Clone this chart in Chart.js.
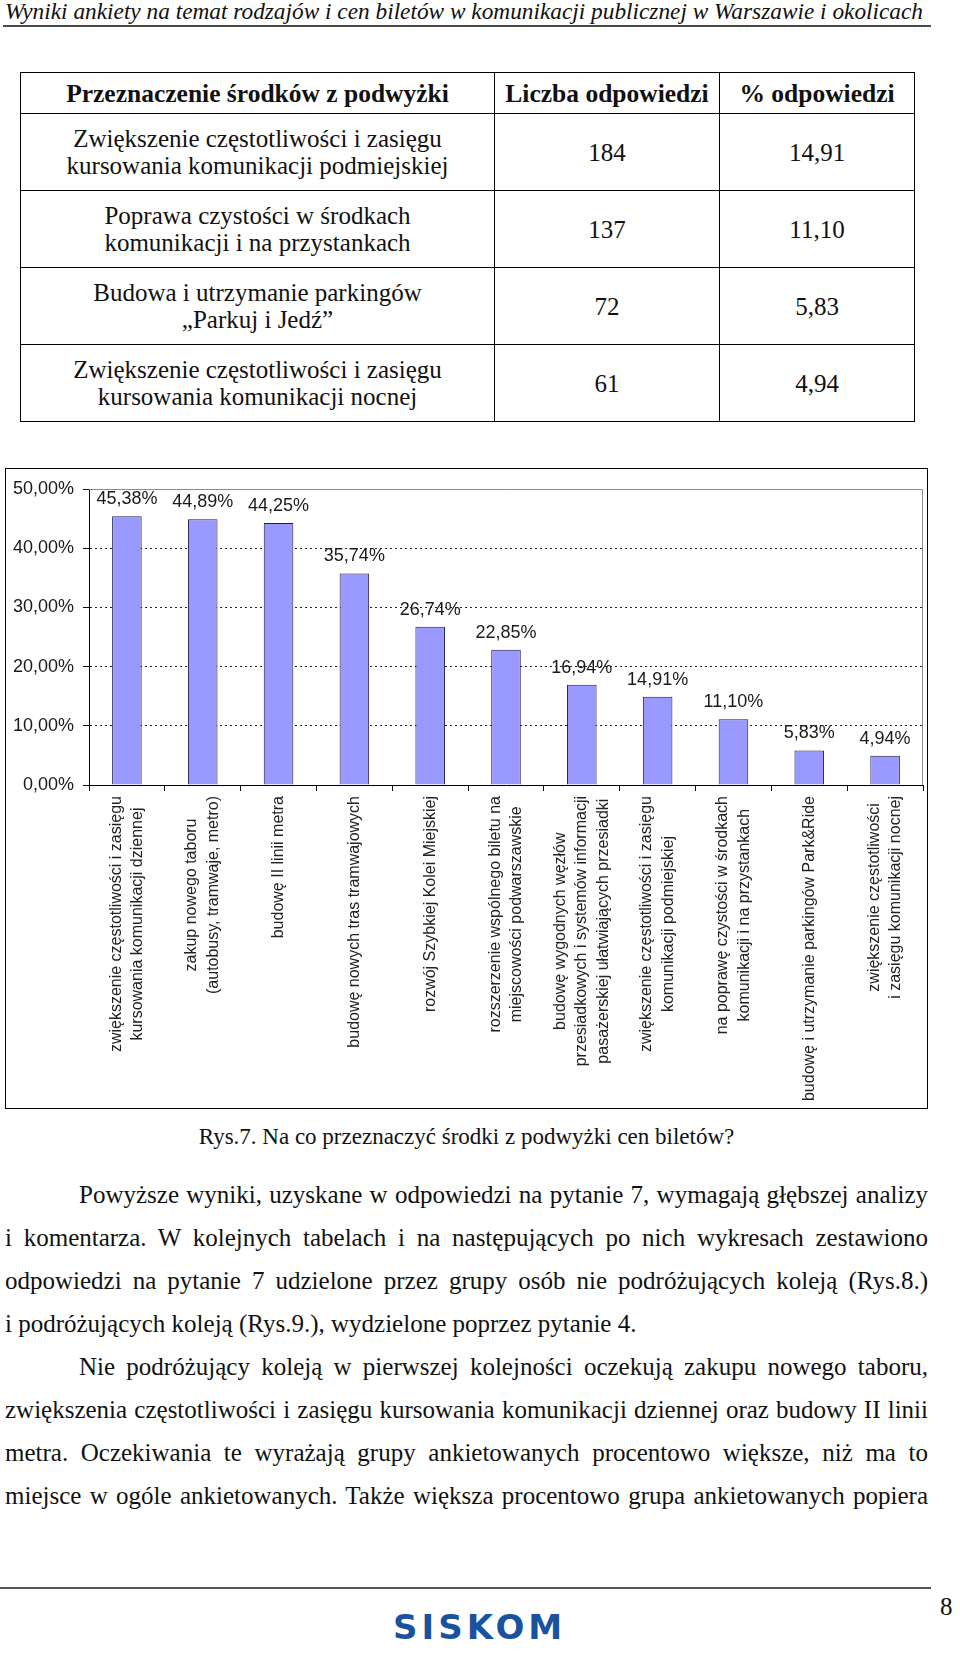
<!DOCTYPE html>
<html lang="pl">
<head>
<meta charset="utf-8">
<title>Rys.7. Na co przeznaczyć środki z podwyżki cen biletów?</title>
<script src="https://cdn.jsdelivr.net/npm/chart.js@4.4.1/dist/chart.umd.min.js"></script>
<style>
  html, body { margin: 0; padding: 0; background: #fff; }
  body {
    width: 960px; height: 1658px; position: relative; overflow: hidden;
    font-family: 'Liberation Serif', 'Times New Roman', serif; color: #111;
  }
  .abs { position: absolute; }
  #header {
    left: 5px; top: -1px; font-style: italic; font-size: 23px; line-height: 26px;
    white-space: nowrap; transform-origin: 0 0;
  }
  #headerRule { left: 3px; top: 25px; width: 928px; height: 2px; background: #4a4a4a; }
  #summary {
    position: absolute; left: 20px; top: 72px; width: 894px;
    border-collapse: collapse; table-layout: fixed; font-size: 25px;
  }
  #summary td, #summary th {
    border: 1px solid #000; text-align: center; vertical-align: middle;
    padding: 0; line-height: 27px;
  }
  #summary th { font-size: 25.5px; height: 40px; }
  #summary td { height: 76px; }
  #chartBox {
    left: 5px; top: 468px; width: 923px; height: 641px;
    border: 1px solid #000; box-sizing: border-box;
  }
  #chartBox canvas { display: block; }
  #caption { left: 5px; top: 1122px; width: 923px; text-align: center; font-size: 23px; line-height: 30px; }
  .line {
    position: absolute; left: 5px; width: 923px; font-size: 25px; line-height: 43px;
    height: 43px; white-space: nowrap; text-align: justify; text-align-last: justify;
  }
  .line.last { text-align-last: left; }
  .line.indent { text-indent: 74px; }
  #footRule { left: 0; top: 1587px; width: 931px; height: 2px; background: #555; }
  #pageNo { left: 940px; top: 1592px; font-size: 25px; line-height: 30px; }
  #logo {
    left: 393px; top: 1608px; font-family: 'DejaVu Sans', sans-serif; font-weight: bold;
    font-size: 34px; line-height: 38px; letter-spacing: 4px; color: #1a52a0;
  }
</style>
</head>
<body>
<div id="header" class="abs">Wyniki ankiety na temat rodzajów i cen biletów w komunikacji publicznej w Warszawie i okolicach</div>
<div id="headerRule" class="abs"></div>

<table id="summary">
  <colgroup><col style="width:474px"><col style="width:225px"><col style="width:195px"></colgroup>
  <thead>
    <tr><th>Przeznaczenie środków z podwyżki</th><th>Liczba odpowiedzi</th><th>% odpowiedzi</th></tr>
  </thead>
  <tbody id="summaryBody"></tbody>
</table>

<div id="chartBox" class="abs"><canvas id="fundsChart" width="921" height="639"></canvas></div>

<div id="caption" class="abs">Rys.7. Na co przeznaczyć środki z podwyżki cen biletów?</div>

<div class="line indent" style="top:1173px">Powyższe wyniki, uzyskane w odpowiedzi na pytanie 7, wymagają głębszej analizy</div>
<div class="line" style="top:1216px">i komentarza. W kolejnych tabelach i na następujących po nich wykresach zestawiono</div>
<div class="line" style="top:1259px">odpowiedzi na pytanie 7 udzielone przez grupy osób nie podróżujących koleją (Rys.8.)</div>
<div class="line last" style="top:1302px">i podróżujących koleją (Rys.9.), wydzielone poprzez pytanie 4.</div>
<div class="line indent" style="top:1345px">Nie podróżujący koleją w pierwszej kolejności oczekują zakupu nowego taboru,</div>
<div class="line" style="top:1388px">zwiększenia częstotliwości i zasięgu kursowania komunikacji dziennej oraz budowy II linii</div>
<div class="line" style="top:1431px">metra. Oczekiwania te wyrażają grupy ankietowanych procentowo większe, niż ma to</div>
<div class="line" style="top:1474px">miejsce w ogóle ankietowanych. Także większa procentowo grupa ankietowanych popiera</div>

<div id="footRule" class="abs"></div>
<div id="pageNo" class="abs">8</div>
<div id="logo" class="abs">SISKOM</div>

<script>
// table data
const tableItems = [
  ['Zwiększenie częstotliwości i zasięgu', 'kursowania komunikacji podmiejskiej'],
  ['Poprawa czystości w środkach', 'komunikacji i na przystankach'],
  ['Budowa i utrzymanie parkingów', '\u201EParkuj i Jedź\u201D'],
  ['Zwiększenie częstotliwości i zasięgu', 'kursowania komunikacji nocnej']
];
const tableCounts = [184, 137, 72, 61];
const tablePercents = ['14,91', '11,10', '5,83', '4,94'];

// chart data
const categories = [
  ['zwiększenie częstotliwości i zasięgu', 'kursowania komunikacji dziennej'],
  ['zakup nowego taboru', '(autobusy, tramwaje, metro)'],
  ['budowę II linii metra'],
  ['budowę nowych tras tramwajowych'],
  ['rozwój Szybkiej Kolei Miejskiej'],
  ['rozszerzenie wspólnego biletu na', 'miejscowości podwarszawskie'],
  ['budowę wygodnych węzłów', 'przesiadkowych i systemów informacji', 'pasażerskiej ułatwiających przesiadki'],
  ['zwiększenie częstotliwości i zasięgu', 'komunikacji podmiejskiej'],
  ['na poprawę czystości w środkach', 'komunikacji i na przystankach'],
  ['budowę i utrzymanie parkingów Park&Ride'],
  ['zwiększenie częstotliwości', 'i zasięgu komunikacji nocnej']
];
const shares = [45.38, 44.89, 44.25, 35.74, 26.74, 22.85, 16.94, 14.91, 11.10, 5.83, 4.94];
const yMin = 0, yMax = 50, yStep = 10;

const fmtPct = v => v.toFixed(2).replace('.', ',') + '%';

// build the table
const tbody = document.getElementById('summaryBody');
tableItems.forEach((lines, i) => {
  const tr = document.createElement('tr');
  tr.innerHTML = '<td>' + lines.join('<br>') + '</td><td>' + tableCounts[i] + '</td><td>' + tablePercents[i] + '</td>';
  tbody.appendChild(tr);
});

// stretch header to its printed width
const header = document.getElementById('header');
header.style.transform = 'scaleX(' + (918 / header.getBoundingClientRect().width) + ')';

const sansFont = '"Liberation Sans", Arial, sans-serif';
Chart.defaults.font.family = sansFont;

// grey frame on top and right of the plot area
const plotFrame = {
  id: 'plotFrame',
  beforeDatasetsDraw(chart) {
    const { ctx, chartArea: a } = chart;
    ctx.save();
    ctx.strokeStyle = '#8c8c8c';
    ctx.lineWidth = 1;
    ctx.beginPath();
    ctx.moveTo(a.left, a.top + 0.5);
    ctx.lineTo(a.right - 0.5, a.top + 0.5);
    ctx.lineTo(a.right - 0.5, a.bottom);
    ctx.stroke();
    ctx.restore();
  }
};

// value above each bar
const valueLabels = {
  id: 'valueLabels',
  afterDatasetsDraw(chart) {
    const ctx = chart.ctx;
    const meta = chart.getDatasetMeta(0);
    ctx.save();
    ctx.font = '18px ' + sansFont;
    ctx.fillStyle = '#1a1a1a';
    ctx.textAlign = 'center';
    ctx.textBaseline = 'alphabetic';
    meta.data.forEach((bar, i) => {
      ctx.fillText(fmtPct(shares[i]), bar.x, bar.y - 12);
    });
    ctx.restore();
  }
};

// vertical, centred multi-line category labels
const categoryLabels = {
  id: 'categoryLabels',
  afterDraw(chart) {
    const ctx = chart.ctx;
    const xs = chart.scales.x;
    ctx.save();
    ctx.font = '16px ' + sansFont;
    ctx.fillStyle = '#222';
    ctx.textAlign = 'center';
    ctx.textBaseline = 'middle';
    categories.forEach((lines, i) => {
      const w = Math.max(...lines.map(l => ctx.measureText(l).width));
      ctx.save();
      ctx.translate(xs.getPixelForValue(i), xs.top + 11);
      ctx.rotate(-Math.PI / 2);
      lines.forEach((line, j) => {
        ctx.fillText(line, -w / 2, (j - (lines.length - 1) / 2) * 21.5);
      });
      ctx.restore();
    });
    ctx.restore();
  }
};

new Chart(document.getElementById('fundsChart'), {
  type: 'bar',
  data: {
    labels: categories,
    datasets: [{
      data: shares,
      backgroundColor: '#9999ff',
      borderColor: '#1c1c4c',
      borderWidth: 1,
      barPercentage: 0.39,
      categoryPercentage: 1
    }]
  },
  options: {
    responsive: false,
    animation: false,
    layout: { padding: { top: 20, right: 4, left: 0, bottom: 0 } },
    plugins: { legend: { display: false }, tooltip: { enabled: false } },
    scales: {
      x: {
        afterFit(scale) { scale.height = 323; },
        ticks: { display: false },
        grid: { drawOnChartArea: false, drawTicks: true, tickLength: 6, tickColor: '#000', tickWidth: 1 },
        border: { color: '#000', width: 1 }
      },
      y: {
        min: yMin,
        max: yMax,
        afterFit(scale) { scale.width = 83; },
        ticks: {
          stepSize: yStep,
          padding: 9,
          color: '#1a1a1a',
          font: { size: 18 },
          callback: v => fmtPct(v)
        },
        grid: {
          color: c => (c.tick && c.tick.value > yMin && c.tick.value < yMax) ? '#222' : 'rgba(0,0,0,0)',
          lineWidth: 1,
          tickLength: 6,
          tickColor: '#000',
          tickWidth: 1
        },
        border: { color: '#000', width: 1, dash: [2, 3] }
      }
    }
  },
  plugins: [plotFrame, valueLabels, categoryLabels]
});
</script>
</body>
</html>
